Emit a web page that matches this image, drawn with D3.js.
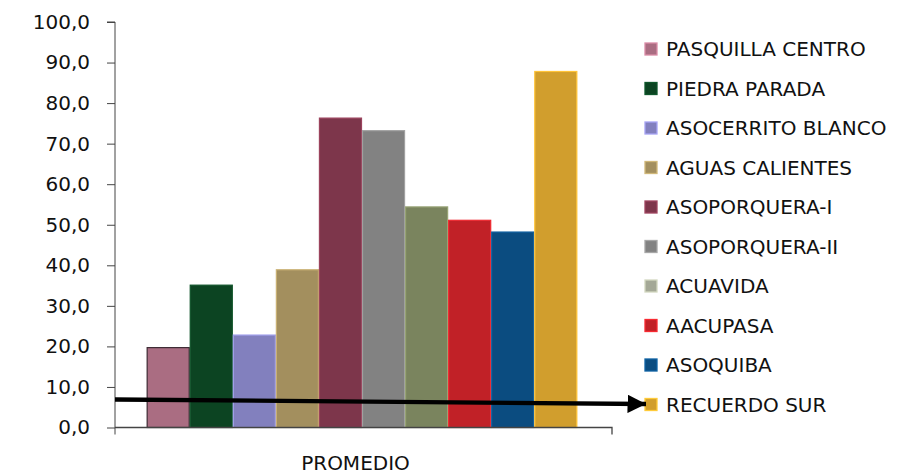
<!DOCTYPE html>
<html>
<head>
<meta charset="utf-8">
<script src="https://cdn.jsdelivr.net/npm/d3@7"></script>
<style>
  body { margin: 0; background: #fff; }
  svg text { font-family: "DejaVu Sans", sans-serif; fill: #111; }
</style>
</head>
<body>
<svg width="902" height="474"></svg>
<script>
// data
var category = "PROMEDIO";
var names = ["PASQUILLA CENTRO", "PIEDRA PARADA", "ASOCERRITO BLANCO", "AGUAS CALIENTES",
  "ASOPORQUERA-I", "ASOPORQUERA-II", "ACUAVIDA", "AACUPASA", "ASOQUIBA", "RECUERDO SUR"];
var values = [19.7, 35.1, 22.8, 38.9, 76.3, 73.2, 54.4, 51.1, 48.2, 87.8];
var colors = ["#aa6d82", "#0c4422", "#8280be", "#a38f5e", "#7d364b",
  "#828282", "#7a845e", "#c12127", "#0b4c80", "#d19e2d"];
var legendColors = ["#aa6d82", "#0c4422", "#8280be", "#a38f5e", "#7d364b",
  "#828282", "#a4a896", "#c12127", "#0b4c80", "#d19e2d"];
var yTicks = [0, 10, 20, 30, 40, 50, 60, 70, 80, 90, 100];
// arrow annotation, value at start and end
var arrowValues = [6.9, 5.8];

var svg = d3.select("svg");
var plotLeft = 115, plotRight = 612, plotTop = 22, plotBottom = 427.5;

var y = d3.scaleLinear().domain([0, 100]).range([plotBottom, plotTop]);
var x0 = d3.scaleBand().domain([category]).range([plotLeft, plotRight]).paddingInner(0).paddingOuter(0.077);
var x1 = d3.scaleBand().domain(names).range([0, x0.bandwidth()]).padding(0);

// bars
var g = svg.append("g").attr("transform", "translate(" + (x0(category) - 1.5) + ",0)");
g.selectAll("rect")
  .data(values)
  .enter()
  .append("rect")
    .attr("x", function(d, i) { return x1(names[i]) + 0.5; })
    .attr("y", function(d) { return y(d); })
    .attr("width", x1.bandwidth() - 1)
    .attr("height", function(d) { return y(0) - y(d); })
    .attr("fill", function(d, i) { return colors[i]; })
    .attr("stroke", function(d, i) {
      return i == 0 ? "#3d2a33" : d3.color(colors[i]).brighter(0.6);
    })
    .attr("stroke-width", 1.2);

// y axis
var yAxis = d3.axisLeft(y)
  .tickValues(yTicks)
  .tickSize(8)
  .tickPadding(17)
  .tickFormat(function(d) { return d3.format(".1f")(d).replace(".", ","); });
var ya = svg.append("g")
  .attr("transform", "translate(" + plotLeft + ",0)")
  .call(yAxis);
ya.select(".domain").attr("stroke", "#444").attr("d", "M-8," + plotTop + "H0V" + (plotBottom + 7));
ya.selectAll(".tick line").attr("stroke", "#444");
ya.selectAll(".tick text").attr("font-size", 20).attr("font-family", "DejaVu Sans").attr("fill", "#111");

// x axis
svg.append("path")
  .attr("d", "M" + plotLeft + "," + plotBottom + "H" + plotRight + "V" + (plotBottom + 7))
  .attr("fill", "none")
  .attr("stroke", "#444")
  .attr("stroke-width", 1.3);

svg.append("text")
  .attr("x", x0(category) + x0.bandwidth() / 2 - 8)
  .attr("y", 470)
  .attr("text-anchor", "middle")
  .attr("font-size", 20)
  .text(category);

// legend
var legend = svg.append("g").attr("transform", "translate(645,0)");
var rows = legend.selectAll("g")
  .data(names)
  .enter()
  .append("g")
    .attr("transform", function(d, i) { return "translate(0," + (49 + i * 39.5) + ")"; });
rows.append("rect")
  .attr("x", 0)
  .attr("y", -6)
  .attr("width", 12)
  .attr("height", 12)
  .attr("fill", function(d, i) { return legendColors[i]; })
  .attr("stroke", function(d, i) { return d3.color(legendColors[i]).brighter(0.7); })
  .attr("stroke-width", 1.3);
rows.append("text")
  .attr("x", 21)
  .attr("y", 0)
  .attr("dy", "0.36em")
  .attr("font-size", 20)
  .text(function(d) { return d; });

// arrow
svg.append("defs").append("marker")
  .attr("id", "head")
  .attr("viewBox", "0 0 10 10")
  .attr("refX", 10)
  .attr("refY", 5)
  .attr("markerWidth", 4.3)
  .attr("markerHeight", 4.3)
  .attr("markerUnits", "strokeWidth")
  .attr("orient", "auto")
  .append("path")
    .attr("d", "M0,0L10,5L0,10Z")
    .attr("fill", "#000");
svg.append("line")
  .attr("x1", plotLeft)
  .attr("y1", y(arrowValues[0]))
  .attr("x2", 646)
  .attr("y2", y(arrowValues[1]))
  .attr("stroke", "#000")
  .attr("stroke-width", 4.3)
  .attr("marker-end", "url(#head)");
</script>
</body>
</html>
